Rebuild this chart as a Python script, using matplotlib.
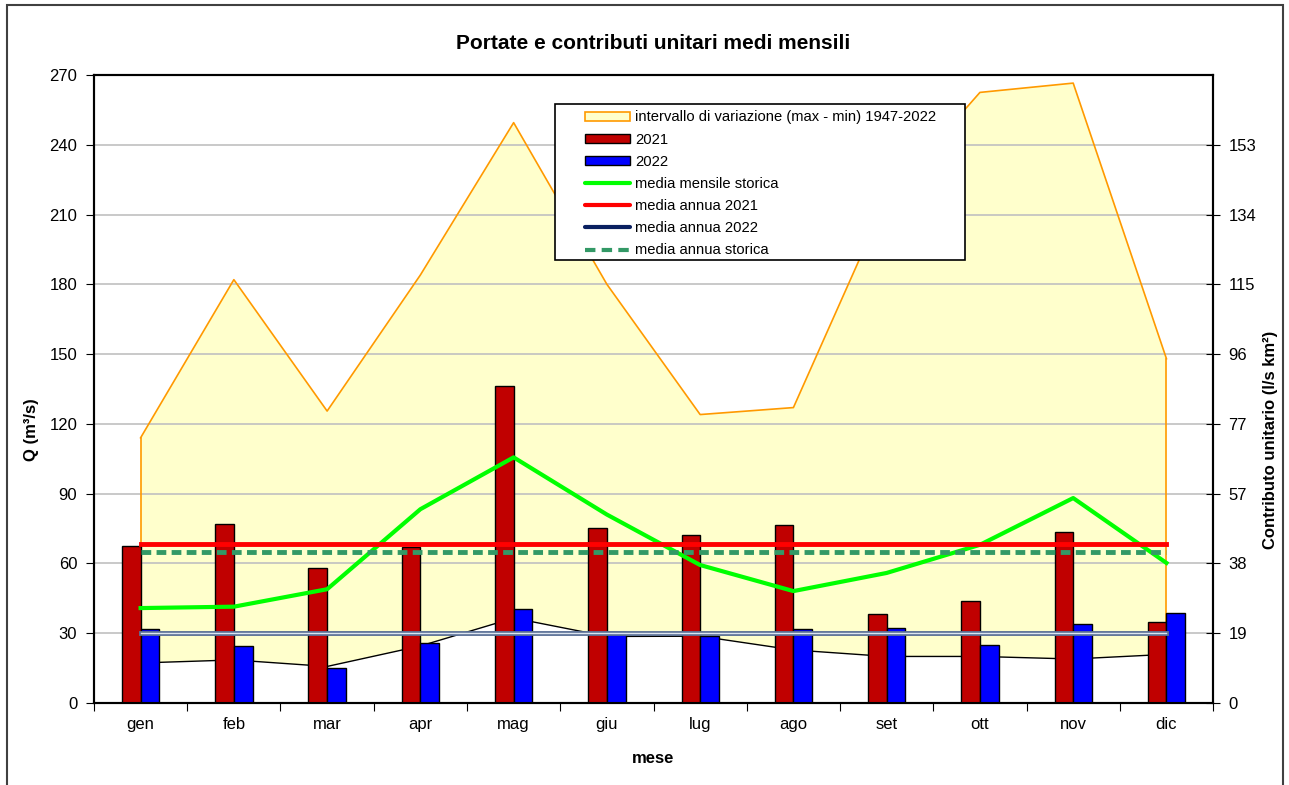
import numpy as np
import matplotlib
matplotlib.use('Agg')
from matplotlib import pyplot as plt
from matplotlib.patches import Patch, Rectangle
from matplotlib.lines import Line2D

plt.rcParams['font.family'] = ['Liberation Sans', 'DejaVu Sans']

mesi = ['gen', 'feb', 'mar', 'apr', 'mag', 'giu', 'lug', 'ago', 'set', 'ott', 'nov', 'dic']
q_max = [114, 182, 125.5, 184, 249.5, 180, 124, 127, 217, 262.5, 266.5, 148]
q_min = [17.2, 18.5, 15.7, 24.5, 36.5, 28.6, 28.7, 22.8, 20, 20, 18.9, 20.9]
q_2021 = [67.3, 76.8, 57.9, 67, 136.3, 75.1, 72.3, 76.3, 38.1, 43.9, 73.4, 35]
q_2022 = [31.7, 24.5, 15.2, 25.7, 40.4, 30.7, 28.8, 31.7, 32.4, 24.9, 34.1, 38.6]
media_mensile_storica = [40.8, 41.4, 48.9, 83.3, 105.6, 81, 59.3, 48.1, 55.9, 68, 88.1, 60.2]
media_annua_2021 = 68.4
media_annua_2022 = 30
media_annua_storica = 65

q_ticks = [0, 30, 60, 90, 120, 150, 180, 210, 240, 270]
contrib_labels = ['0', '19', '38', '57', '77', '96', '115', '134', '153']
k = 153 / 240  # l/s km2 per m3/s

x = np.arange(len(mesi))

fig = plt.figure(figsize=(12.89, 7.85), dpi=100)
ax = fig.add_axes([0.0729, 0.1045, 0.8682, 0.8])

# grid
for t in q_ticks[1:-1]:
    ax.axhline(t, color='#c0c0c0', lw=1.2, zorder=1.5)

# range area
ax.fill_between(x, q_min, q_max, facecolor='#FFFFCC', edgecolor='none', zorder=1)
ax.plot(x, q_max, color='#FF9900', lw=1.2, zorder=1.6)
ax.plot([x[0], x[0]], [q_min[0], q_max[0]], color='#FF9900', lw=1.2, zorder=1.6)
ax.plot([x[-1], x[-1]], [q_min[-1], q_max[-1]], color='#FF9900', lw=1.2, zorder=1.6)
ax.plot(x, q_min, color='black', lw=1.0, zorder=1.7)

# bars
w = 0.2
ax.bar(x - w / 2, q_2021, w, color='#C00000', edgecolor='black', lw=1, zorder=3)
ax.bar(x + w / 2, q_2022, w, color='#0000FF', edgecolor='black', lw=1, zorder=3)

# lines
ax.plot(x, media_mensile_storica, color='#00FF00', lw=3, zorder=4)
ax.plot([x[0], x[-1]], [media_annua_2021] * 2, color='#FF0000', lw=3.5, zorder=4)
ax.plot([x[0], x[-1]], [media_annua_2022] * 2, color='#5a6f96', lw=3.5, zorder=4)
ax.plot([x[0], x[-1]], [media_annua_2022] * 2, color='#dde5f0', lw=1.0, zorder=4.1)
ax.plot([x[0], x[-1]], [media_annua_storica] * 2, color='#339966', lw=3.5,
        dashes=(2.0, 1.1), zorder=4)

ax.set_xlim(-0.5, 11.5)
ax.set_ylim(0, 270)
ax.set_yticks(q_ticks)
ax.tick_params(axis='y', direction='out', length=6, labelsize=12, pad=6)
ax.set_xticks(np.arange(-0.5, 12, 1))
ax.set_xticklabels([])
ax.set_xticks(x, minor=True)
ax.set_xticklabels(mesi, minor=True)
ax.tick_params(axis='x', which='major', direction='out', length=6)
ax.tick_params(axis='x', which='minor', length=0, labelsize=12, pad=10)
for s in ax.spines.values():
    s.set_linewidth(1.5)

ax.set_ylabel('Q (m³/s)', fontsize=12, fontweight='bold')
ax.yaxis.set_label_coords(-0.049, 0.435)
ax.set_xlabel('mese', fontsize=12, fontweight='bold', labelpad=14)
ax.set_title('Portate e contributi unitari medi mensili', fontsize=15,
             fontweight='bold', pad=19)

ax2 = ax.twinx()
ax2.set_ylim(0, 270 * k)
ax2.set_yticks([t * k for t in q_ticks[:-1]])
ax2.set_yticklabels(contrib_labels)
ax2.tick_params(axis='y', direction='inout', length=10, labelsize=12, pad=6)
ax2.set_ylabel('Contributo unitario (l/s km²)', fontsize=12, fontweight='bold')
ax2.yaxis.set_label_coords(1.0447, 0.419)
for s in ax2.spines.values():
    s.set_linewidth(1.5)

# legend box
ax2.add_patch(Rectangle((0.412, 0.705), 0.366, 0.249, transform=ax2.transAxes,
                        facecolor='white', edgecolor='black', lw=1.2, zorder=9))

handles = [
    Patch(facecolor='#FFFFCC', edgecolor='#FF9900', lw=1.2),
    Patch(facecolor='#C00000', edgecolor='black', lw=1),
    Patch(facecolor='#0000FF', edgecolor='black', lw=1),
    Line2D([], [], color='#00FF00', lw=3, solid_capstyle='round'),
    Line2D([], [], color='#FF0000', lw=3, solid_capstyle='round'),
    Line2D([], [], color='#0a2060', lw=3, solid_capstyle='round'),
    Line2D([], [], color='#339966', lw=3, dashes=(2.5, 1.5)),
]
labels = ['intervallo di variazione (max - min) 1947-2022', '2021', '2022',
          'media mensile storica', 'media annua 2021', 'media annua 2022',
          'media annua storica']
leg = ax2.legend(handles, labels, loc='upper left', bbox_to_anchor=(0.4388, 0.9435),
                 fontsize=10.6, frameon=False,
                 handlelength=3.06, handleheight=0.6, labelspacing=0.555,
                 borderpad=0, borderaxespad=0, handletextpad=0.34)
leg.set_zorder(10)

fig.patches.append(Rectangle((0.0055, -0.01), 0.99, 1.003, transform=fig.transFigure,
                             fill=False, edgecolor='#404040', lw=1.5))

fig.savefig('out.png', dpi=100)
